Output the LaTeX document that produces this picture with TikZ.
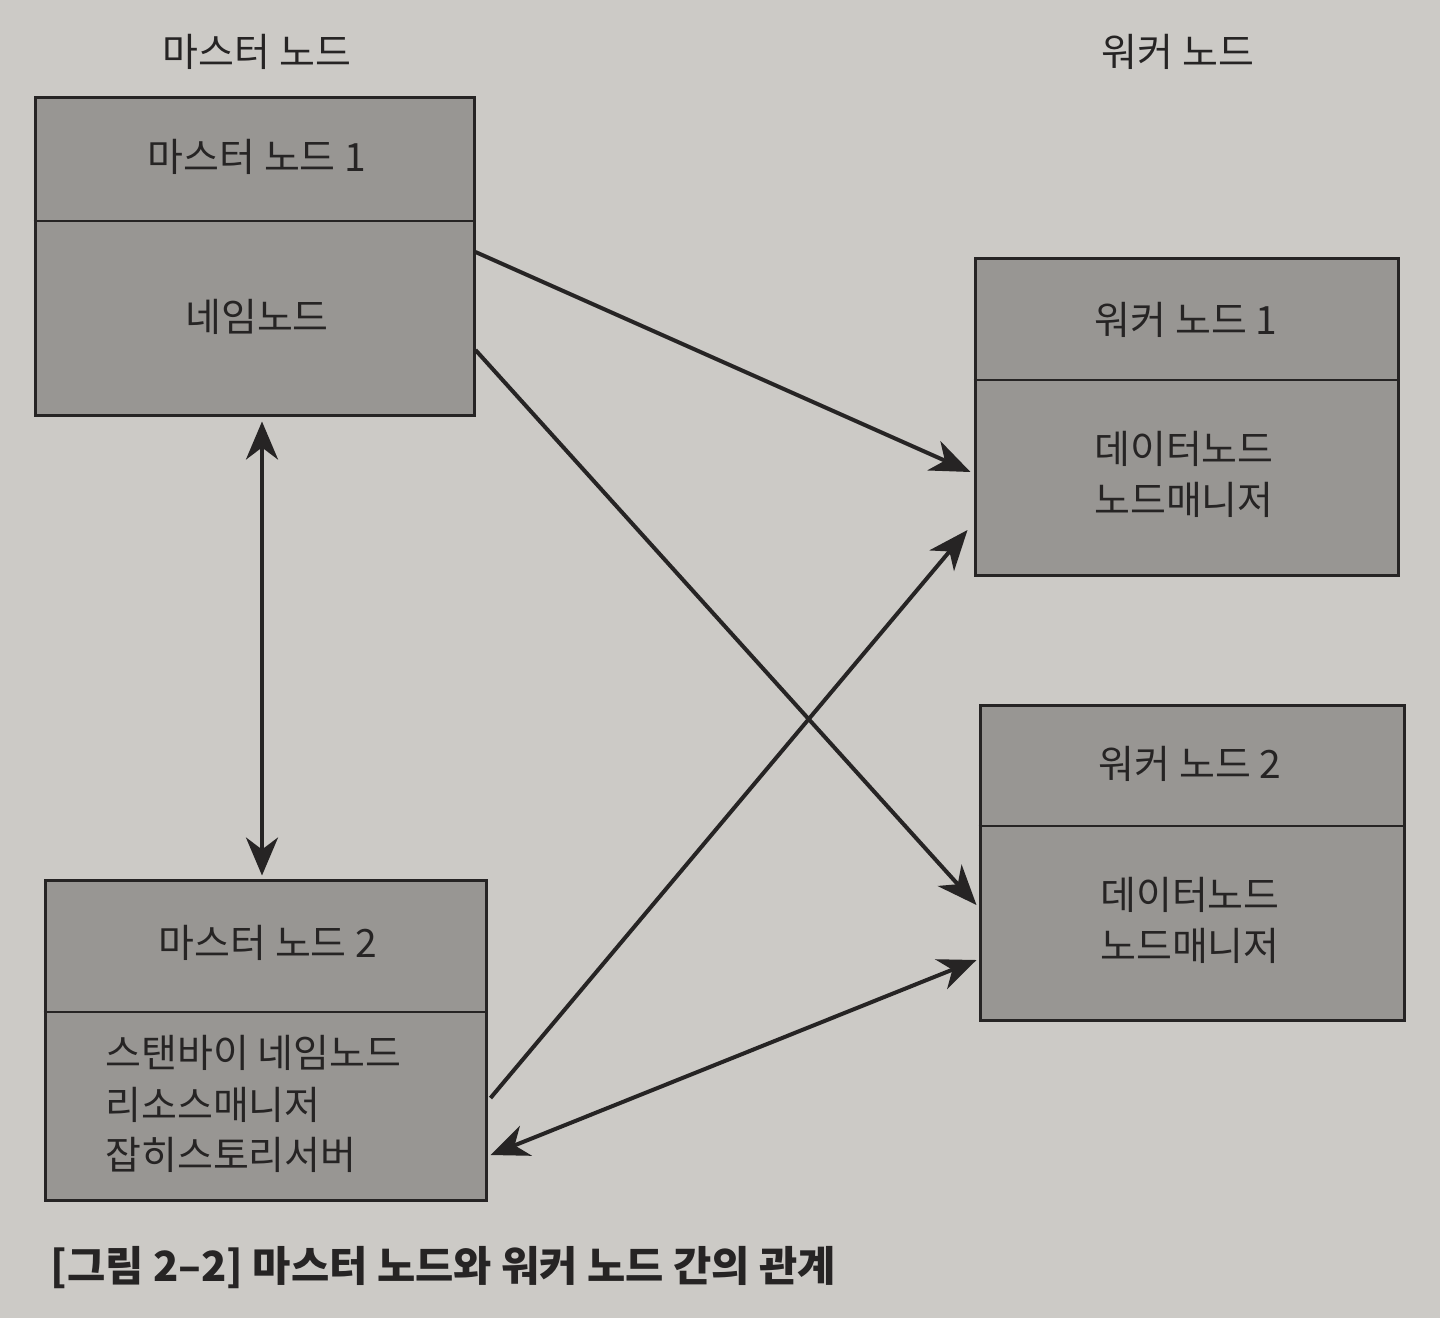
\documentclass[tikz,border=0pt]{standalone}
\usepackage{fontspec}
\setmainfont{Noto Sans CJK KR}
\usetikzlibrary{arrows.meta,calc}
\definecolor{pagebg}{RGB}{204,202,198}
\definecolor{boxfill}{RGB}{152,150,147}
\definecolor{ink}{RGB}{38,36,36}
\tikzset{
  box/.style={draw=ink, line width=1.5pt, fill=boxfill, inner sep=0pt},
  divider/.style={draw=ink, line width=1.2pt},
  lbl/.style={text=ink, font=\fontsize{19.5}{25.5}\selectfont, inner sep=0pt},
  tip/.style={},
  conn/.style={draw=ink, line width=2pt, -{Stealth[length=20pt,width=16pt,inset=6pt]}},
  biconn/.style={draw=ink, line width=2pt, {Stealth[length=19pt,width=16pt,inset=6pt]}-{Stealth[length=19pt,width=16pt,inset=6pt]}},
}
\begin{document}
\begin{tikzpicture}[x=0.5pt,y=-0.5pt]
\fill[pagebg] (0,0) rectangle (1440,1318);
\useasboundingbox (0,0) rectangle (1440,1318);

% headers
\node[lbl] (hm) at (257,52) {마스터 노드};
\node[lbl] (hw) at (1178,52) {워커 노드};

% boxes
\node[box, minimum width=219.5pt, minimum height=159pt] (m1) at (254.5,256) {};
\node[box, minimum width=220.5pt, minimum height=160pt] (m2) at (265.5,1040) {};
\node[box, minimum width=211.5pt, minimum height=158.5pt] (w1) at (1186.5,416.5) {};
\node[box, minimum width=212pt, minimum height=157.5pt] (w2) at (1192,862.5) {};

% dividers
\draw[divider] (m1.west |- 0,221) -- (m1.east |- 0,221);
\draw[divider] (m2.west |- 0,1012) -- (m2.east |- 0,1012);
\draw[divider] (w1.west |- 0,380) -- (w1.east |- 0,380);
\draw[divider] (w2.west |- 0,826) -- (w2.east |- 0,826);

% texts
\node[lbl] (m1t) at (257,157) {마스터 노드 1};
\node[lbl] (m1b) at (257,317) {네임노드};
\node[lbl] (m2t) at (268,943) {마스터 노드 2};
\node[lbl, anchor=west] (m2b1) at (105,1053) {스탠바이 네임노드};
\node[lbl, anchor=west] (m2b2) at (105,1105) {리소스매니저};
\node[lbl, anchor=west] (m2b3) at (105,1155) {잡히스토리서버};
\node[lbl] (w1t) at (1186,320) {워커 노드 1};
\node[lbl, align=left] (w1b) at (1184,474) {데이터노드\\노드매니저};
\node[lbl] (w2t) at (1190,764) {워커 노드 2};
\node[lbl, align=left] (w2b) at (1190,920) {데이터노드\\노드매니저};

% caption
\node[text=ink, font=\fontsize{20.8}{24}\bfseries\selectfont, anchor=west, inner sep=0pt] (cap) at (50,1268) {[그림 2–2] 마스터 노드와 워커 노드 간의 관계};

% connectors
\draw[conn] ($(m1.east)+(0,-4)$) -- ($(w1.west)+(-3,55.5)$);
\draw[conn] ($(m1.east)+(0,94)$) -- ($(w2.west)+(-2,42.5)$);
\draw[conn] ($(m2.east)+(3,58)$) -- ($(w1.west)+(-6,113.5)$);
\draw[biconn] ($(m2.east)+(3,115)$) -- ($(w2.west)+(-2,97.5)$);
\draw[biconn] ($(m1.south)+(7.5,5)$) -- ($(m2.north)+(-3.5,-3)$);
\end{tikzpicture}
\end{document}
